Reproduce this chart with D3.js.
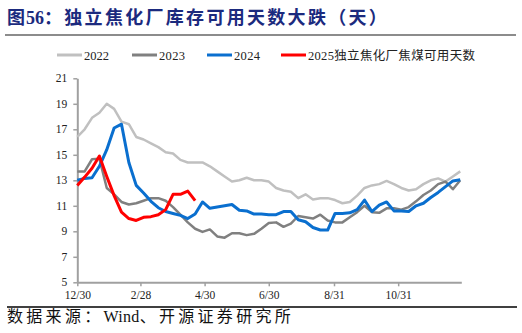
<!DOCTYPE html>
<html><head><meta charset="utf-8">
<script src="https://cdn.jsdelivr.net/npm/d3@7"></script>
<style>
html,body{margin:0;padding:0;background:#fff;}
svg{display:block;}
</style></head>
<body>
<svg id="c" width="522" height="333"></svg>
<script>
// ---- data ----
const titleParts = ["图", "56", "：独立焦化厂库存可用天数大跌（天）"];
const sourceParts = ["数据来源：", "Wind", "、开源证券研究所"];
const seriesNames = ["2022", "2023", "2024", "2025独立焦化厂焦煤可用天数"];
const seriesColors = ["#c0c0c0", "#808080", "#0a6fcf", "#ff0000"];
const stepDays = 7; // weekly data
const xTickDays = [0, 60, 121, 182, 244, 305];
const xTickLabels = ["12/30", "2/28", "4/30", "6/30", "8/31", "10/31"];
const yTicks = [5, 7, 9, 11, 13, 15, 17, 19, 21];

const v2022 = [16.4,17.0,17.9,18.3,19.0,18.6,17.6,17.4,16.4,16.2,15.9,15.6,15.2,15.1,14.6,14.4,14.4,14.4,14.1,13.7,
  13.3,12.9,13.0,13.2,13.0,13.0,12.9,12.4,12.2,12.1,11.6,11.9,11.5,11.6,11.6,11.45,11.2,11.3,11.8,12.4,
  12.6,12.7,12.95,12.7,12.4,12.2,12.3,12.7,13.0,13.15,12.9,13.3,13.7];
const v2023 = [13.7,13.7,14.65,14.7,12.4,11.9,11.3,11.1,11.2,11.4,11.6,11.6,11.4,10.9,10.3,9.7,9.2,8.95,9.15,8.6,
  8.5,8.85,8.85,8.7,8.8,9.2,9.65,9.7,9.35,9.6,10.2,10.1,10.0,10.3,9.85,9.7,9.7,10.1,10.5,11.0,
  10.5,10.45,10.8,10.8,10.7,10.9,11.35,11.85,12.2,12.7,12.9,12.3,13.0];
const v2024 = [13.0,13.15,13.2,14.1,15.4,17.1,17.4,14.4,12.6,12.0,11.35,10.85,10.55,10.4,10.25,10.0,10.35,11.3,10.8,10.9,
  11.0,11.1,10.65,10.6,10.35,10.35,10.3,10.3,10.55,10.55,9.9,9.75,9.3,9.1,9.1,10.4,10.4,10.45,10.7,11.45,
  10.55,11.05,11.3,10.6,10.6,10.55,11.0,11.2,11.65,12.05,12.5,12.95,13.05];
const v2025 = [12.6,13.25,13.95,14.9,13.3,11.8,10.5,10.0,9.85,10.1,10.15,10.3,10.7,11.9,11.9,12.15,11.4];

const allSeries = [v2022, v2023, v2024, v2025];
const seriesWidths = [2.5, 2.5, 3, 3];

// ---- chart ----
const svg = d3.select("#c");
const x = d3.scaleLinear().domain([0, 365]).range([77.3, 461.3]);
const y = d3.scaleLinear().domain([5, 21]).range([282.3, 78.3]);
const FONT = "'Liberation Serif','Noto Sans CJK SC',serif";

// title
const tt = svg.append("text").attr("x", 7).attr("y", 24)
  .attr("font-family", FONT).attr("font-weight", "bold").attr("font-size", 18).attr("fill", "#1b2a7e");
tt.append("tspan").attr("letter-spacing", 1).text(titleParts[0]);
tt.append("tspan").attr("letter-spacing", 0).text(titleParts[1]);
tt.append("tspan").attr("letter-spacing", 2.3).text(titleParts[2]);
svg.append("line").attr("x1", 5).attr("x2", 516).attr("y1", 35).attr("y2", 35)
  .attr("stroke", "#8c8c8c").attr("stroke-width", 2);

// legend
const legendX = [57, 132, 207, 281];
const legendLens = [25, 26, 26, 167];
const lg = svg.append("g");
seriesNames.forEach((n, i) => {
  lg.append("line").attr("x1", legendX[i]).attr("x2", legendX[i] + 25)
    .attr("y1", 55).attr("y2", 55).attr("stroke", seriesColors[i]).attr("stroke-width", 3);
  lg.append("text").attr("x", legendX[i] + 27).attr("y", 59.5)
    .attr("font-family", FONT)
    .attr("font-size", 12.5).attr("fill", "#222")
    .attr("textLength", legendLens[i]).attr("lengthAdjust", "spacing")
    .text(n);
});

// axes
const yAxis = svg.append("g").attr("transform", `translate(${x(0)},0)`)
  .call(d3.axisLeft(y).tickValues(yTicks).tickSize(4).tickSizeOuter(0).tickPadding(6));
const xAxis = svg.append("g").attr("transform", `translate(0,${y(5)})`)
  .call(d3.axisBottom(x).tickValues(xTickDays).tickFormat((d, i) => xTickLabels[i])
    .tickSize(4).tickSizeOuter(0).tickPadding(5));
[yAxis, xAxis].forEach(a => {
  a.select(".domain").attr("stroke", "#a0a0a0").attr("stroke-width", 2);
  a.selectAll(".tick line").attr("stroke", "#a0a0a0").attr("stroke-width", 1.5);
  a.selectAll(".tick text").attr("font-family", "'Liberation Serif',serif")
    .attr("font-size", 11.5).attr("fill", "#222");
});

// lines
const line = d3.line().x((d, i) => x(i * stepDays)).y(d => y(d));
allSeries.forEach((s, i) => {
  svg.append("path").datum(s).attr("d", line).attr("fill", "none")
    .attr("stroke", seriesColors[i]).attr("stroke-width", seriesWidths[i])
    .attr("stroke-linejoin", "round");
});

// bottom rule and source
svg.append("line").attr("x1", 7).attr("x2", 517).attr("y1", 307).attr("y2", 307)
  .attr("stroke", "#000").attr("stroke-width", 1.5);
const st = svg.append("text").attr("x", 7).attr("y", 322)
  .attr("font-family", FONT).attr("font-size", 16).attr("fill", "#111");
st.append("tspan").attr("letter-spacing", 3.3).text(sourceParts[0]);
st.append("tspan").attr("letter-spacing", 0.3).text(sourceParts[1]);
st.append("tspan").attr("letter-spacing", 3.3).text(sourceParts[2]);
</script>
</body></html>
